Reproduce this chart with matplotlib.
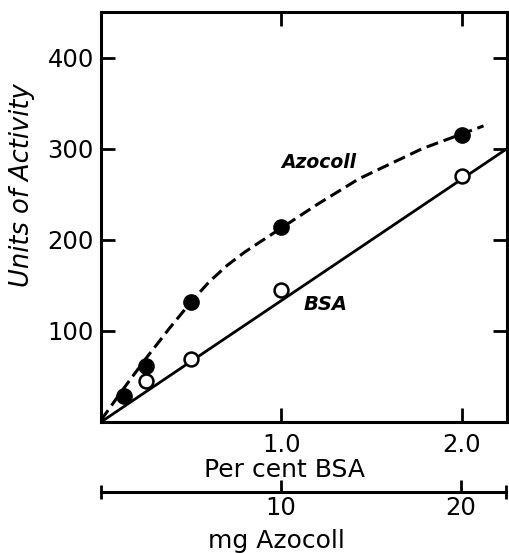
import matplotlib
matplotlib.use("Agg")
import matplotlib.pyplot as plt

# points
azo_x = [0.13, 0.25, 0.5, 1.0, 2.0]
azo_y = [29, 61, 132, 214, 315]
bsa_x = [0.25, 0.5, 1.0, 2.0]
bsa_y = [45, 69, 145, 270]

# hand-drawn dashed Azocoll curve
curve_x = [0.0, 0.13, 0.25, 0.38, 0.5, 0.6, 0.7, 0.8, 0.9, 1.0,
           1.2, 1.43, 1.78, 2.12]
curve_y = [2, 38, 70, 103, 132, 154, 172, 187, 200, 213,
           239, 267, 300, 325]

# straight BSA line
bsa_line_x = [0.0, 2.25]
bsa_line_y = [0, 300]

yticks = [100, 200, 300, 400]
xticks = [1.0, 2.0]
xticklabels = ["1.0", "2.0"]
mg_ticks = [10, 20]
mg_ticklabels = ["10", "20"]

W, H = 509, 553
fig = plt.figure(figsize=(W / 100, H / 100), dpi=100)

def fx(px):
    return px / W

def fy(py):
    return 1 - py / H

ax = fig.add_axes([fx(101), fy(422), fx(507) - fx(101), fy(12) - fy(422)])
ax.set_xlim(0, 2.25)
ax.set_ylim(0, 450)

ax.plot(bsa_line_x, bsa_line_y, "-", color="black", lw=2.0, zorder=2)
ax.plot(curve_x, curve_y, color="black", lw=2.2, dashes=(4, 1.9), zorder=2)
ax.plot(azo_x, azo_y, "o", ms=11, color="black", zorder=3)
ax.plot(bsa_x, bsa_y, "o", ms=10, mfc="white", mec="black", mew=1.8, zorder=3)

for s in ax.spines.values():
    s.set_linewidth(2.2)
ax.set_yticks(yticks)
ax.set_yticklabels([str(v) for v in yticks])
ax.set_xticks(xticks)
ax.set_xticklabels(xticklabels)
ax.tick_params(direction="in", length=10, width=2, top=True, right=True,
               labelsize=17.5)
ax.tick_params(axis="y", pad=5)
ax.tick_params(axis="x", pad=8)

ax.text(1.0, 285, "Azocoll", style="italic", weight="bold", fontsize=13.5,
        ha="left", va="center")
ax.text(1.12, 129, "BSA", style="italic", weight="bold", fontsize=14,
        ha="left", va="center")

fig.text(fx(22), fy(185), "Units of Activity", rotation=90, style="italic",
         fontsize=18.5, ha="center", va="center")
fig.text(fx(284), fy(470), "Per cent BSA", fontsize=18, ha="center", va="center")

# second scale underneath: mg Azocoll
ax2 = fig.add_axes([fx(101), fy(492), fx(506) - fx(101), 0.01])
ax2.set_xlim(0, 22.5)
ax2.set_ylim(0, 1)
ax2.patch.set_visible(False)
for side in ["top", "left", "right"]:
    ax2.spines[side].set_visible(False)
ax2.spines["bottom"].set_linewidth(2.2)
ax2.set_yticks([])
ax2.set_xticks(mg_ticks)
ax2.set_xticklabels(mg_ticklabels)
ax2.tick_params(axis="x", direction="in", length=9, width=2, labelsize=17.5, pad=3)
ax2.set_xticks([0, 22.5], minor=True)
ax2.tick_params(axis="x", which="minor", direction="inout", length=10, width=2)
fig.text(fx(276), fy(541), "mg Azocoll", fontsize=18, ha="center", va="center")

fig.savefig("out.png", dpi=100)
